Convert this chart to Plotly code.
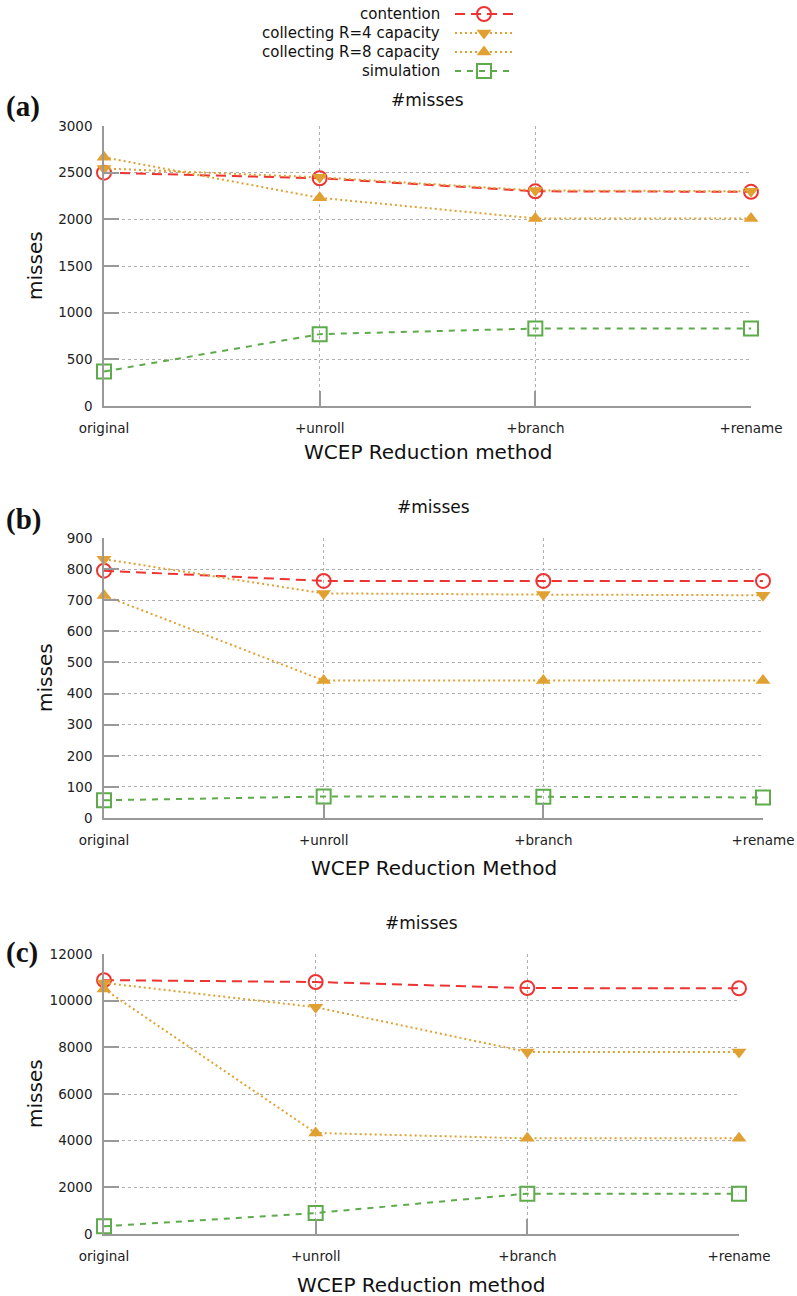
import plotly.graph_objects as go

W, H = 797, 1296

categories = ["original", "+unroll", "+branch", "+rename"]
series_names = ["contention", "collecting R=4 capacity", "collecting R=8 capacity", "simulation"]

a_contention = [2500, 2440, 2300, 2295]
a_r4 = [2545, 2450, 2310, 2300]
a_r8 = [2665, 2230, 2010, 2010]
a_sim = [370, 770, 830, 830]

b_contention = [795, 762, 762, 762]
b_r4 = [832, 722, 718, 716]
b_r8 = [715, 442, 442, 442]
b_sim = [57, 69, 68, 66]

c_contention = [10880, 10800, 10540, 10530]
c_r4 = [10760, 9720, 7800, 7800]
c_r8 = [10500, 4330, 4100, 4100]
c_sim = [330, 900, 1730, 1730]

panel_labels = ["(a)", "(b)", "(c)"]
panel_titles = ["#misses", "#misses", "#misses"]
x_titles = ["WCEP Reduction method", "WCEP Reduction Method", "WCEP Reduction method"]
y_title = "misses"
y_ranges = [[0, 3000], [0, 900], [0, 12000]]
y_dticks = [500, 100, 2000]

RED = "#ee3333"
ORANGE = "#e0a032"
GREEN = "#5dab4b"
FONT = "DejaVu Sans"

styles = [
    dict(line=dict(color=RED, width=2, dash="10px,6px"),
         marker=dict(symbol="circle-open", size=14, color=RED, line=dict(width=2, color=RED))),
    dict(line=dict(color=ORANGE, width=2, dash="2px,3px"),
         marker=dict(symbol="triangle-down", size=13, color=ORANGE)),
    dict(line=dict(color=ORANGE, width=2, dash="2px,3px"),
         marker=dict(symbol="triangle-up", size=13, color=ORANGE)),
    dict(line=dict(color=GREEN, width=2, dash="6px,6px"),
         marker=dict(symbol="square-open", size=14, color=GREEN, line=dict(width=2, color=GREEN))),
]

panels = [
    [a_contention, a_r4, a_r8, a_sim],
    [b_contention, b_r4, b_r8, b_sim],
    [c_contention, c_r4, c_r8, c_sim],
]

# pixel boxes of plot areas: (left, right, top, bottom)
boxes = [(104, 751, 126, 406), (104, 763, 538, 818), (104, 739, 954, 1234)]

def px_x(p):
    return p / W

def px_y(p):
    return 1 - p / H

fig = go.Figure()
xpos = list(range(len(categories)))

for i, (data, box) in enumerate(zip(panels, boxes)):
    xa = "x" if i == 0 else f"x{i+1}"
    ya = "y" if i == 0 else f"y{i+1}"
    for name, vals, st in zip(series_names, data, styles):
        fig.add_trace(go.Scatter(
            x=xpos, y=vals, mode="lines+markers", name=name,
            line=st["line"], marker=st["marker"], xaxis=xa, yaxis=ya,
            cliponaxis=False, showlegend=False))

layout = dict(
    width=W, height=H, margin=dict(l=0, r=0, t=0, b=0, autoexpand=False),
    paper_bgcolor="white", plot_bgcolor="white",
    font=dict(family=FONT, size=13, color="#222"),
    showlegend=False,
)

annotations = []
for i, box in enumerate(boxes):
    l, r, t, b = box
    kx = "xaxis" if i == 0 else f"xaxis{i+1}"
    ky = "yaxis" if i == 0 else f"yaxis{i+1}"
    anchor_x = "y" if i == 0 else f"y{i+1}"
    anchor_y = "x" if i == 0 else f"x{i+1}"
    layout[kx] = dict(
        domain=[px_x(l), px_x(r)], anchor=anchor_x, range=[0, len(categories) - 1],
        tickvals=xpos, ticktext=categories, showgrid=True, gridcolor="#b0b0b0",
        griddash="dot", gridwidth=1, showline=True, linecolor="#999999", linewidth=1.5,
        ticks="inside", ticklen=15, tickcolor="#999999", tickwidth=1.5,
        zeroline=False, tickfont=dict(size=13.5, color="#222"), ticklabelstandoff=9,
        automargin=False)
    layout[ky] = dict(
        domain=[px_y(b), px_y(t)], anchor=anchor_y, range=y_ranges[i], dtick=y_dticks[i],
        tickformat="d",
        showgrid=True, gridcolor="#b0b0b0", griddash="dot", gridwidth=1,
        showline=True, linecolor="#999999", linewidth=1.5, ticks="inside", ticklen=15,
        tickcolor="#999999", tickwidth=1.5, zeroline=False,
        tickfont=dict(size=13.5, color="#222"), ticklabelstandoff=7, automargin=False)

title_y = [100, 507, 923]
xtitle_y = [452, 868, 1285]
ytitle_x = [35, 45, 35]
label_y = [106, 519, 952]
for i, box in enumerate(boxes):
    l, r, t, b = box
    annotations.append(dict(text=panel_titles[i], x=px_x((l + r) / 2), y=px_y(title_y[i]),
                            xref="paper", yref="paper", showarrow=False,
                            font=dict(size=17, family=FONT, color="#111"),
                            xanchor="center", yanchor="middle"))
    annotations.append(dict(text=x_titles[i], x=px_x((l + r) / 2), y=px_y(xtitle_y[i]),
                            xref="paper", yref="paper", showarrow=False,
                            font=dict(size=20, family=FONT, color="#111"),
                            xanchor="center", yanchor="middle"))
    annotations.append(dict(text=y_title, x=px_x(ytitle_x[i]), y=px_y((t + b) / 2),
                            xref="paper", yref="paper", showarrow=False, textangle=-90,
                            font=dict(size=20, family=FONT, color="#111"),
                            xanchor="center", yanchor="middle"))
    annotations.append(dict(text="<b>" + panel_labels[i] + "</b>", x=px_x(4), y=px_y(label_y[i]),
                            xref="paper", yref="paper", showarrow=False,
                            font=dict(size=29, family="Liberation Serif", color="#111"),
                            xanchor="left", yanchor="middle"))

# manual legend (text right-aligned, sample to the right)
leg_rows = [14, 33, 52, 71]
leg_text_right = 442
leg_x0, leg_x1 = 455, 513
layout["xaxis4"] = dict(domain=[px_x(leg_x0), px_x(leg_x1)], anchor="y4", range=[0, 1],
                        visible=False, fixedrange=True)
layout["yaxis4"] = dict(domain=[px_y(leg_rows[-1] + 9.5), px_y(leg_rows[0] - 9.5)], anchor="x4",
                        range=[len(leg_rows) - 0.5, -0.5], visible=False, fixedrange=True)
for k, (name, st) in enumerate(zip(series_names, styles)):
    fig.add_trace(go.Scatter(x=[0, 1], y=[k, k], mode="lines", line=st["line"],
                             xaxis="x4", yaxis="y4", showlegend=False, hoverinfo="skip"))
    fig.add_trace(go.Scatter(x=[0.5], y=[k], mode="markers", marker=st["marker"],
                             xaxis="x4", yaxis="y4", showlegend=False, hoverinfo="skip",
                             cliponaxis=False))
    annotations.append(dict(text=name, x=px_x(leg_text_right), y=px_y(leg_rows[k]),
                            xref="paper", yref="paper", showarrow=False,
                            font=dict(size=15, family=FONT, color="#111"),
                            xanchor="right", yanchor="middle"))

layout["annotations"] = annotations
fig.update_layout(**layout)
fig.write_html(
    "out.html",
    config={"displayModeBar": False},
    post_script="document.body.style.margin='0';document.body.style.overflow='hidden';",
)
